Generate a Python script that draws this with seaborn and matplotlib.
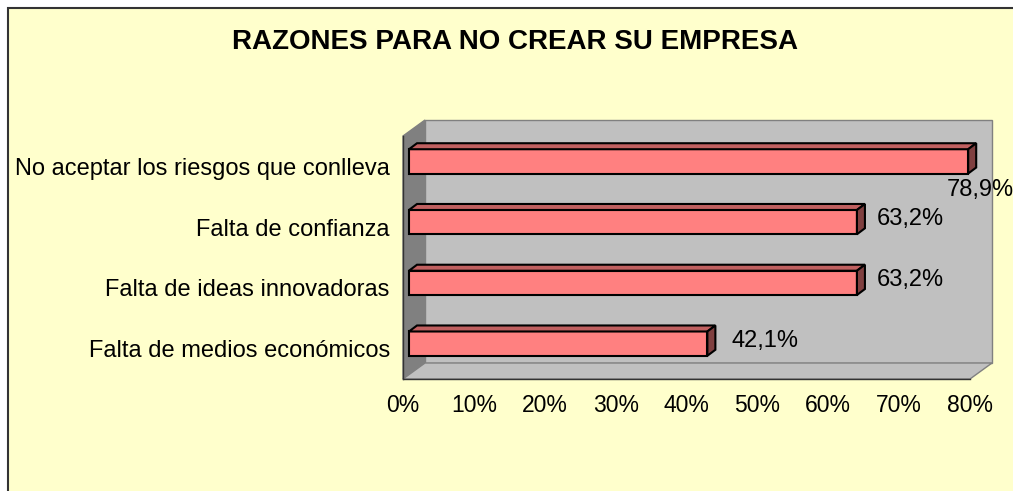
import numpy as np
import matplotlib.pyplot as plt
from matplotlib.patches import Polygon, Rectangle
import seaborn as sns

# data
categories = [
    'No aceptar los riesgos que conlleva',
    'Falta de confianza',
    'Falta de ideas innovadoras',
    'Falta de medios económicos',
]
values = [78.9, 63.2, 63.2, 42.1]
value_labels = ['78,9%', '63,2%', '63,2%', '42,1%']
x_ticks = [0, 10, 20, 30, 40, 50, 60, 70, 80]
title = 'RAZONES PARA NO CREAR SU EMPRESA'

sns.set_style('white')
plt.rcParams['font.family'] = ['Liberation Sans', 'DejaVu Sans']

W, H = 1013, 491
fig = plt.figure(figsize=(W / 100, H / 100), dpi=100, facecolor='white')

# chart area: pale yellow with a dark frame on the top/left edge
fig.add_artist(Rectangle((8 / W, -0.05), 1.1, 1 - 8 / H + 0.05,
                         transform=fig.transFigure, facecolor='#FFFFCC',
                         edgecolor='#333333', lw=1.5, zorder=0))

ax = fig.add_axes([403 / W, 1 - 379 / H, 567 / W, 243 / H])
ax.patch.set_visible(False)

# pixel -> data conversion helpers for the fake 3D look
px_x = 567 / 80
px_y = 243 / 4
wall_dx, wall_dy = 22 / px_x, 16 / px_y
front_dx, front_dy = 6 / px_x, 5 / px_y
depth_dx, depth_dy = 8 / px_x, 6 / px_y

sns.barplot(x=values, y=categories, orient='h', color='#FF8080', saturation=1,
            width=0.4, edgecolor='black', linewidth=1.5, ax=ax, zorder=3)
ax.set_xlim(0, 80)
ax.set_ylim(3.5, -0.5)

# walls and floor
ax.add_patch(Rectangle((wall_dx, -0.5 - wall_dy), 80, 4, facecolor='#C0C0C0',
                       edgecolor='#808080', lw=1, clip_on=False, zorder=0.5))
ax.add_patch(Polygon([(0, -0.5), (wall_dx, -0.5 - wall_dy), (wall_dx, 3.5 - wall_dy), (0, 3.5)],
                     facecolor='#808080', edgecolor='#808080', lw=1, clip_on=False, zorder=0.6))
ax.add_patch(Polygon([(0, 3.5), (wall_dx, 3.5 - wall_dy), (80 + wall_dx, 3.5 - wall_dy), (80, 3.5)],
                     facecolor='#C0C0C0', edgecolor='#808080', lw=1, clip_on=False, zorder=0.6))

# give each bar a top and a side face
label_offsets = [(4, -29, 'center'), (12, 3, 'left'), (12, 3, 'left'), (16, 3, 'left')]
for bar, lab, (ox, oy, ha) in zip(ax.containers[0], value_labels, label_offsets):
    x0 = bar.get_x() + front_dx
    y0 = bar.get_y() - front_dy
    w, h = bar.get_width(), bar.get_height()
    bar.set_x(x0)
    bar.set_y(y0)
    bar.set_clip_on(False)
    ax.add_patch(Polygon([(x0, y0), (x0 + depth_dx, y0 - depth_dy),
                          (x0 + w + depth_dx, y0 - depth_dy), (x0 + w, y0)],
                         facecolor='#C06060', edgecolor='black', lw=1.5,
                         clip_on=False, zorder=3))
    ax.add_patch(Polygon([(x0 + w, y0), (x0 + w + depth_dx, y0 - depth_dy),
                          (x0 + w + depth_dx, y0 + h - depth_dy), (x0 + w, y0 + h)],
                         facecolor='#804040', edgecolor='black', lw=1.5,
                         clip_on=False, zorder=3))
    ax.annotate(lab, xy=(x0 + w + depth_dx, y0 + h / 2), xytext=(ox, oy),
                textcoords='offset pixels', ha=ha, va='center', fontsize=17,
                color='black', annotation_clip=False, zorder=4)

ax.set_xticks(x_ticks)
ax.set_xticklabels([f'{t}%' for t in x_ticks], fontsize=16.5)
ax.set_yticks(range(len(categories)))
ax.set_yticklabels(categories, fontsize=17)
ax.set_yticks(np.arange(-0.5, len(categories), 1), minor=True)
ax.tick_params(axis='x', length=4, width=1, color='#333333', pad=7, labelcolor='black')
ax.tick_params(axis='y', which='major', length=0, pad=9.5, labelcolor='black')
ax.tick_params(axis='y', which='minor', length=4.5, width=1, color='#333333')
ax.set_xlabel('')
ax.set_ylabel('')

for side in ['top', 'right']:
    ax.spines[side].set_visible(False)
for side in ['left', 'bottom']:
    ax.spines[side].set_color('#333333')
    ax.spines[side].set_linewidth(1)
    ax.spines[side].set_zorder(2)

fig.text(515 / W, 1 - 42 / H, title, ha='center', va='center',
         fontsize=20, fontweight='bold', color='black')

fig.savefig('out.png', dpi=100, facecolor=fig.get_facecolor())
